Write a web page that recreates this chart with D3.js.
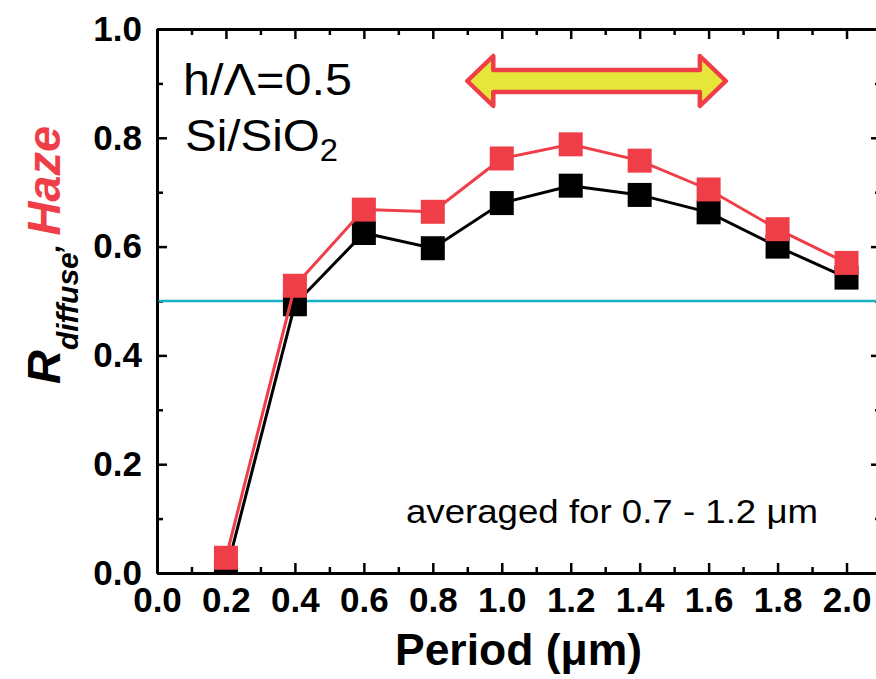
<!DOCTYPE html>
<html>
<head>
<meta charset="utf-8">
<script src="https://d3js.org/d3.v7.min.js"></script>
<style>
  body { margin: 0; background: #fff; }
  svg { display: block; font-family: Arial, "Liberation Sans", Helvetica, sans-serif; }
</style>
</head>
<body>
<script>
// data
var periods = [0.2, 0.4, 0.6, 0.8, 1.0, 1.2, 1.4, 1.6, 1.8, 2.0];
var rDiffuse = [0.0, 0.494, 0.625, 0.597, 0.680, 0.712, 0.695, 0.663, 0.600, 0.543];
var haze = [0.028, 0.528, 0.668, 0.664, 0.762, 0.788, 0.758, 0.705, 0.632, 0.570];
var xTicks = [0.0, 0.2, 0.4, 0.6, 0.8, 1.0, 1.2, 1.4, 1.6, 1.8, 2.0];
var yTicks = [0.0, 0.2, 0.4, 0.6, 0.8, 1.0];
var refLevel = 0.5;
var arrowRange = [0.9, 1.65];

var w = 876;
var h = 679;
var red = "#ef3e48";

var svg = d3.select("body")
  .append("svg")
  .attr("width", w)
  .attr("height", h);

var x = d3.scaleLinear().domain([0, 2.1]).range([157, 881]);
var y = d3.scaleLinear().domain([0, 1]).range([573, 29]);

svg.append("clipPath").attr("id", "plot")
  .append("rect")
  .attr("x", x(0)).attr("y", y(1))
  .attr("width", x(2.1) - x(0)).attr("height", y(0) - y(1));

var minorX = d3.range(0.1, 2.1, 0.2);
var minorY = [0.1, 0.3, 0.5, 0.7, 0.9];

function styleAxis(g) {
  g.select(".domain").attr("stroke", "#000").attr("stroke-width", 3);
  g.selectAll(".tick line").attr("stroke", "#000").attr("stroke-width", 2.5);
  g.selectAll("text")
    .attr("fill", "#000")
    .style("font-size", "35px")
    .style("font-weight", "bold");
}

// bottom axis with labels
svg.append("g")
  .attr("transform", "translate(0," + y(0) + ")")
  .call(d3.axisBottom(x).tickValues(xTicks).tickFormat(d3.format(".1f"))
    .tickSizeInner(-10).tickSizeOuter(0).tickPadding(14))
  .call(styleAxis);
svg.append("g")
  .attr("transform", "translate(0," + y(0) + ")")
  .call(d3.axisBottom(x).tickValues(minorX).tickFormat("").tickSizeInner(-6).tickSizeOuter(0))
  .call(styleAxis);

// top axis
svg.append("g")
  .attr("transform", "translate(0," + y(1) + ")")
  .call(d3.axisTop(x).tickValues(xTicks).tickFormat("").tickSizeInner(-10).tickSizeOuter(0))
  .call(styleAxis);
svg.append("g")
  .attr("transform", "translate(0," + y(1) + ")")
  .call(d3.axisTop(x).tickValues(minorX).tickFormat("").tickSizeInner(-6).tickSizeOuter(0))
  .call(styleAxis);

// left axis
svg.append("g")
  .attr("transform", "translate(" + x(0) + ",0)")
  .call(d3.axisLeft(y).tickValues(yTicks).tickFormat(d3.format(".1f"))
    .tickSizeInner(-10).tickSizeOuter(0).tickPadding(15))
  .call(styleAxis);
svg.append("g")
  .attr("transform", "translate(" + x(0) + ",0)")
  .call(d3.axisLeft(y).tickValues(minorY).tickFormat("").tickSizeInner(-6).tickSizeOuter(0))
  .call(styleAxis);

// right axis (mostly off screen)
svg.append("g")
  .attr("transform", "translate(" + x(2.1) + ",0)")
  .call(d3.axisRight(y).tickValues(yTicks).tickFormat("").tickSizeInner(-10).tickSizeOuter(0))
  .call(styleAxis);
svg.append("g")
  .attr("transform", "translate(" + x(2.1) + ",0)")
  .call(d3.axisRight(y).tickValues(minorY).tickFormat("").tickSizeInner(-6).tickSizeOuter(0))
  .call(styleAxis);

// 0.5 reference line
svg.append("line")
  .attr("x1", x(0) + 1.5).attr("x2", x(2.1))
  .attr("y1", y(refLevel)).attr("y2", y(refLevel))
  .attr("stroke", "#17b3c3")
  .attr("stroke-width", 2.5);

var plot = svg.append("g").attr("clip-path", "url(#plot)");

function drawSeries(values, color) {
  var pts = periods.map(function (p, i) { return [p, values[i]]; });
  plot.append("path")
    .datum(pts)
    .attr("fill", "none")
    .attr("stroke", color)
    .attr("stroke-width", 3)
    .attr("d", d3.line()
      .x(function (d) { return x(d[0]); })
      .y(function (d) { return y(d[1]); }));
  plot.selectAll(null)
    .data(pts)
    .enter()
    .append("rect")
    .attr("x", function (d) { return x(d[0]) - 12; })
    .attr("y", function (d) { return y(d[1]) - 12; })
    .attr("width", 24)
    .attr("height", 24)
    .attr("fill", color);
}

drawSeries(rDiffuse, "#000");
drawSeries(haze, red);

// double arrow
var ax0 = x(arrowRange[0]), ax1 = x(arrowRange[1]), ay = 81;
var hl = 26, hh = 25, sh = 11;
var arrow = [
  [ax0, ay], [ax0 + hl, ay - hh], [ax0 + hl, ay - sh], [ax1 - hl, ay - sh],
  [ax1 - hl, ay - hh], [ax1, ay], [ax1 - hl, ay + hh], [ax1 - hl, ay + sh],
  [ax0 + hl, ay + sh], [ax0 + hl, ay + hh]
];
svg.append("path")
  .attr("d", d3.line()(arrow) + "Z")
  .attr("fill", "#e6e63a")
  .attr("stroke", red)
  .attr("stroke-width", 4.5)
  .attr("stroke-linejoin", "round");

// annotations
svg.append("text")
  .attr("x", 183).attr("y", 95)
  .attr("textLength", 169)
  .attr("lengthAdjust", "spacingAndGlyphs")
  .style("font-size", "45px")
  .text("h/Λ=0.5");

var si = svg.append("text")
  .attr("x", 185).attr("y", 151)
  .attr("textLength", 153)
  .attr("lengthAdjust", "spacingAndGlyphs")
  .style("font-size", "45px");
si.append("tspan").text("Si/SiO");
si.append("tspan").attr("dy", 10).style("font-size", "31px").text("2");

svg.append("text")
  .attr("x", 406).attr("y", 523)
  .attr("textLength", 412)
  .attr("lengthAdjust", "spacingAndGlyphs")
  .style("font-size", "34px")
  .text("averaged for 0.7 - 1.2 μm");

svg.append("text")
  .attr("x", 395).attr("y", 665)
  .attr("textLength", 247)
  .attr("lengthAdjust", "spacingAndGlyphs")
  .style("font-size", "45px")
  .style("font-weight", "bold")
  .text("Period (μm)");

// y title
var yt = svg.append("text")
  .attr("transform", "translate(60,384) rotate(-90)")
  .style("font-weight", "bold")
  .style("font-style", "italic")
  .style("font-size", "47px");
yt.append("tspan").text("R");
yt.append("tspan").attr("dy", 18).style("font-size", "30px").text("diffuse");
yt.append("tspan").attr("dy", -18).style("font-size", "30px").text(", ");
yt.append("tspan").attr("fill", red).text("Haze");
</script>
</body>
</html>
